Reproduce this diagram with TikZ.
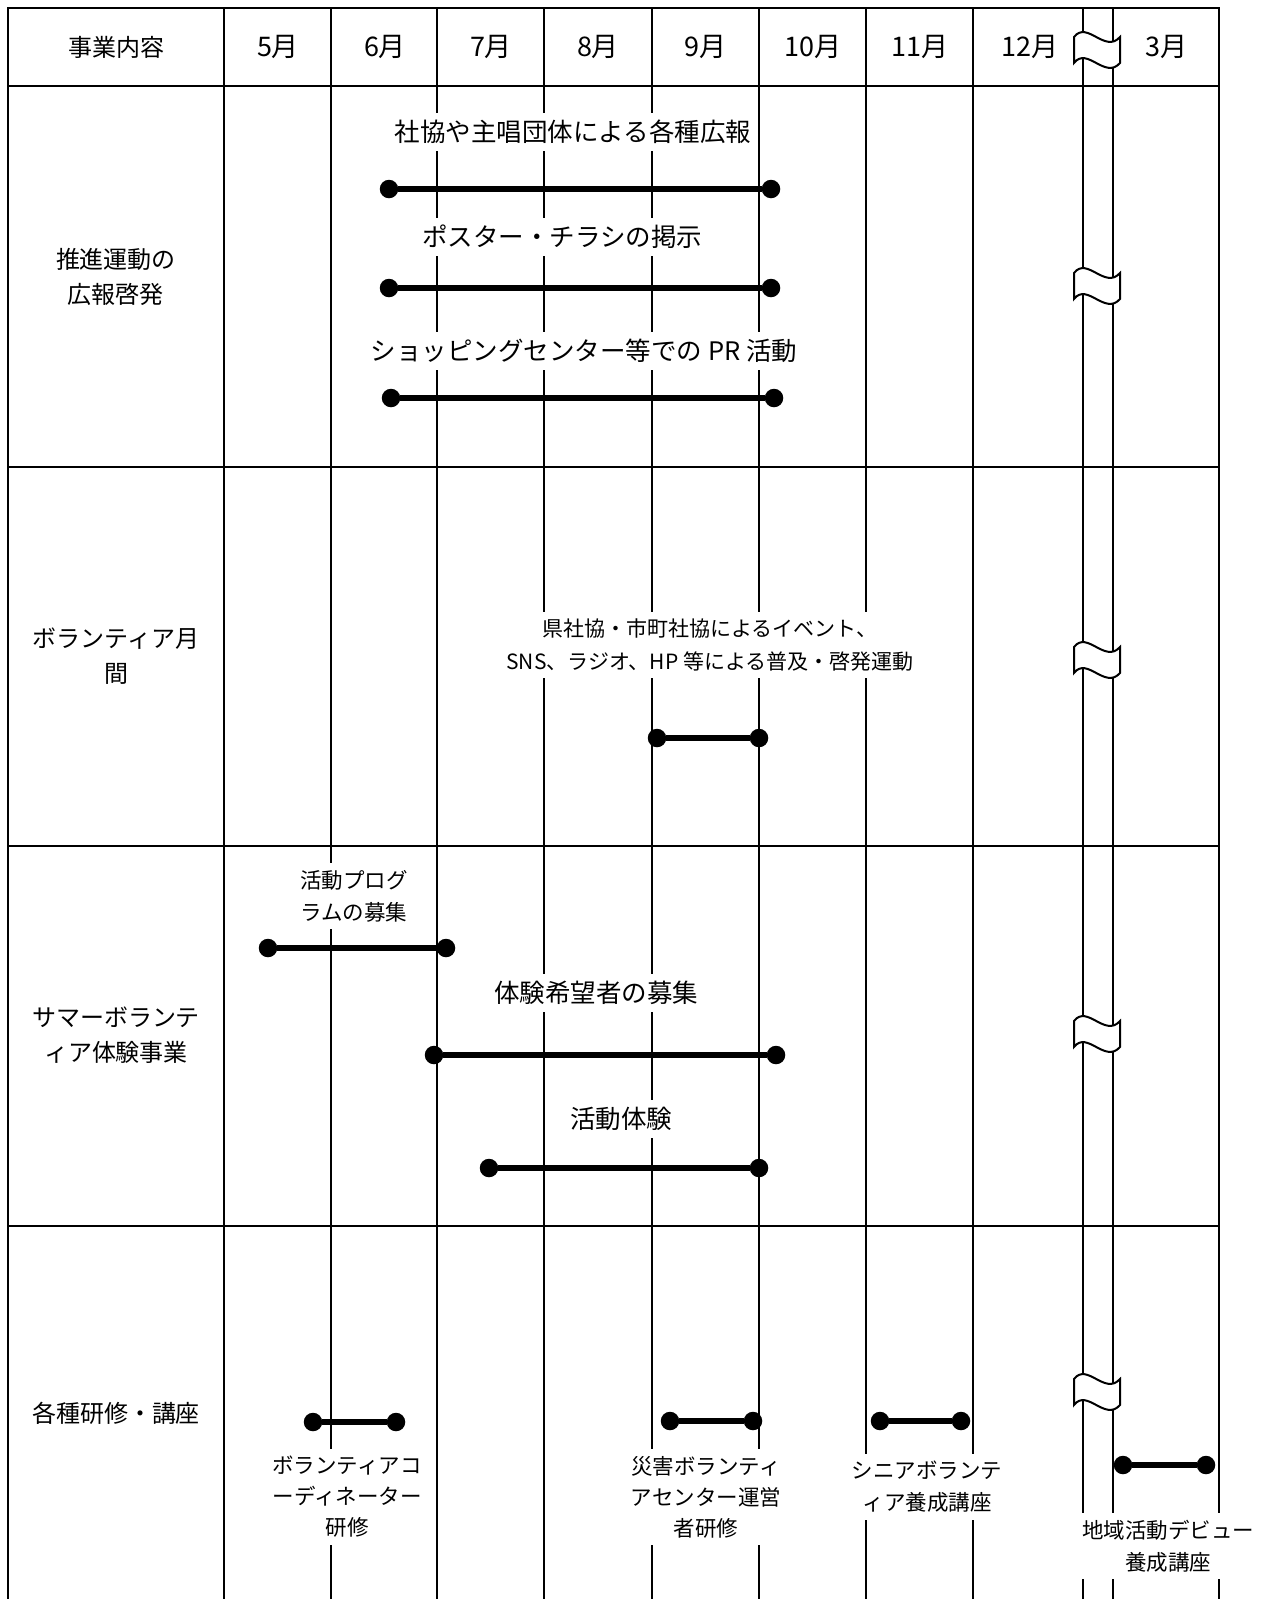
\documentclass[tikz,border=0pt]{standalone}
\usepackage{fontspec}
\setmainfont{Noto Sans CJK JP}
\begin{document}
\begin{tikzpicture}[x=1pt,y=-1pt,
  gridline/.style={line width=2.1pt},
  borderline/.style={line width=2.4pt},
  biglbl/.style={fill=white, inner xsep=4pt, inner ysep=7pt, align=center, font=\fontsize{25.5}{34}\selectfont},
  smalllbl/.style={fill=white, inner xsep=4pt, inner ysep=7pt, align=center, font=\fontsize{21.5}{32}\selectfont},
  headlbl/.style={align=center, font=\fontsize{24}{35}\selectfont},
  monthlbl/.style={font=\fontsize{27}{30}\selectfont},
  dot/.style={circle, fill=black, minimum size=18.5pt, inner sep=0pt},
  barline/.style={line width=5.5pt},
  brk/.pic={\draw[line width=2pt, fill=white] (-23,-13) .. controls (-10,-30) and (8,4) .. (23,-13) -- (23,13) .. controls (8,30) and (-10,-4) .. (-23,13) -- cycle;}
]
\useasboundingbox (0,0) rectangle (1270,1599);
% grid
\foreach \x in {331,437,544,652,759,866,973,1083,1113}{
  \draw[gridline] (\x,8) -- (\x,1599);
}
\draw[borderline] (224,8) -- (224,1599);
\draw[borderline] (8,1599) -- (8,8) -- (1219,8) -- (1219,1599);
\foreach \y in {86,467,846,1226}{
  \draw[borderline] (8,\y) -- (1219,\y);
}
% break marks
\pic at (1097,50) {brk};
\pic at (1097,286) {brk};
\pic at (1097,660) {brk};
\pic at (1097,1034) {brk};
\pic at (1097,1392) {brk};
% header
\node[headlbl] (hd) at (116,47) {事業内容};
\node[monthlbl] (m5) at (278,47) {5月};
\node[monthlbl] (m6) at (385,47) {6月};
\node[monthlbl] (m7) at (491,47) {7月};
\node[monthlbl] (m8) at (598,47) {8月};
\node[monthlbl] (m9) at (705.5,47) {9月};
\node[monthlbl] (m10) at (813,47) {10月};
\node[monthlbl] (m11) at (920,47) {11月};
\node[monthlbl] (m12) at (1030,47) {12月};
\node[monthlbl] (m3) at (1166,47) {3月};
% row headings
\node[headlbl] (h1) at (116,277) {推進運動の\\広報啓発};
\node[headlbl] (h2) at (116,656) {ボランティア月\\間};
\node[headlbl] (h3) at (116,1035) {サマーボランテ\\ィア体験事業};
\node[headlbl] (h4) at (116,1413) {各種研修・講座};
% row 1
\node[biglbl] (t1) at (573,132) {社協や主唱団体による各種広報};
\node[dot] (d1a) at (389,189) {};
\node[dot] (d1b) at (771,189) {};
\draw[barline] (d1a) -- (d1b);
\node[biglbl] (t2) at (562,237) {ポスター・チラシの掲示};
\node[dot] (d2a) at (389,288) {};
\node[dot] (d2b) at (771,288) {};
\draw[barline] (d2a) -- (d2b);
\node[biglbl] (t3) at (584,351) {ショッピングセンター等での PR 活動};
\node[dot] (d3a) at (391,398) {};
\node[dot] (d3b) at (774,398) {};
\draw[barline] (d3a) -- (d3b);
% row 2
\node[smalllbl, font=\fontsize{21}{33}\selectfont] (t4) at (710,645) {県社協・市町社協によるイベント、\\SNS、ラジオ、HP 等による普及・啓発運動};
\node[dot] (d4a) at (657,738) {};
\node[dot] (d4b) at (759,738) {};
\draw[barline] (d4a) -- (d4b);
% row 3
\node[smalllbl] (t5) at (354,896) {活動プログ\\ラムの募集};
\node[dot] (d5a) at (268,948) {};
\node[dot] (d5b) at (446,948) {};
\draw[barline] (d5a) -- (d5b);
\node[biglbl] (t6) at (596,993) {体験希望者の募集};
\node[dot] (d6a) at (434,1055) {};
\node[dot] (d6b) at (776,1055) {};
\draw[barline] (d6a) -- (d6b);
\node[biglbl] (t7) at (621,1119) {活動体験};
\node[dot] (d7a) at (489,1168) {};
\node[dot] (d7b) at (759,1168) {};
\draw[barline] (d7a) -- (d7b);
% row 4
\node[dot] (d8a) at (313,1422) {};
\node[dot] (d8b) at (396,1422) {};
\draw[barline] (d8a) -- (d8b);
\node[smalllbl, font=\fontsize{21.5}{31}\selectfont] (t8) at (347,1497) {ボランティアコ\\ーディネーター\\研修};
\node[dot] (d9a) at (670,1421) {};
\node[dot] (d9b) at (753,1421) {};
\draw[barline] (d9a) -- (d9b);
\node[smalllbl, font=\fontsize{21.5}{31}\selectfont] (t9) at (706,1497) {災害ボランティ\\アセンター運営\\者研修};
\node[dot] (d10a) at (880,1421) {};
\node[dot] (d10b) at (961,1421) {};
\draw[barline] (d10a) -- (d10b);
\node[smalllbl] (t10) at (927,1487) {シニアボランテ\\ィア養成講座};
\node[dot] (d11a) at (1123,1465) {};
\node[dot] (d11b) at (1206,1465) {};
\draw[barline] (d11a) -- (d11b);
\node[smalllbl] (t11) at (1168,1546) {地域活動デビュー\\養成講座};
\end{tikzpicture}
\end{document}
